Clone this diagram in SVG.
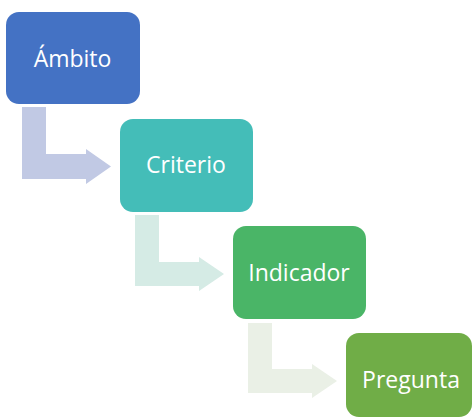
<svg xmlns="http://www.w3.org/2000/svg" width="473" height="419" viewBox="0 0 473 419">
<style>
.lbl{font-family:"Open Sans","Liberation Sans",sans-serif;font-size:23px;fill:#ffffff;text-anchor:middle}
</style>
<rect width="473" height="419" fill="#ffffff"/>
<g id="connectors">
<path d="M22,107 H46 V154 H86 V149 L111,166.5 L86,184 V179 H22 Z" fill="#c1c9e4"/>
<path d="M135,215 H159 V262 H199 V257 L224,274 L199,291 V286 H135 Z" fill="#d5ebe5"/>
<path d="M248,323 H272 V369 H312 V364 L337,381 L312,398 V393 H248 Z" fill="#eaf0e6"/>
</g>
<g id="ambito">
<rect x="6" y="12" width="134" height="92" rx="13" fill="#4472c4"/>
<text class="lbl" x="72.5" y="66.5">Ámbito</text>
</g>
<g id="criterio">
<rect x="120" y="119" width="133" height="93" rx="13" fill="#44bdb8"/>
<text class="lbl" x="186" y="173">Criterio</text>
</g>
<g id="indicador">
<rect x="233" y="226" width="133" height="93" rx="13" fill="#4ab567"/>
<text class="lbl" x="299" y="280.5">Indicador</text>
</g>
<g id="pregunta">
<rect x="346" y="333" width="126" height="84" rx="13" fill="#70ad47"/>
<text class="lbl" x="411" y="388">Pregunta</text>
</g>
</svg>
